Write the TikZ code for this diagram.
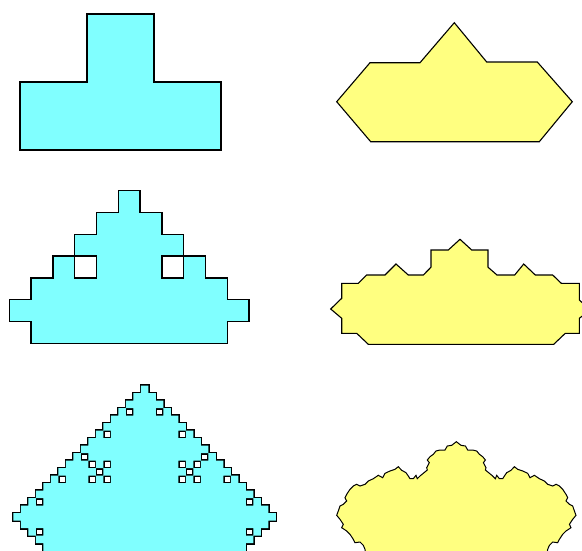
\documentclass[tikz,border=0pt]{standalone}
\definecolor{cyanfill}{RGB}{128,255,255}
\definecolor{yelfill}{RGB}{255,255,128}
\tikzset{
  cyanshape/.style={fill=cyanfill, draw=black, line width=1.4pt, line join=miter},
  yelshape/.style={fill=yelfill, draw=black, line width=1.1pt, line join=miter},
}
\def\cyanruns{0/17/18, 1/16/19, 2/15/20,
 3/14/15, 3/16/19, 3/20/21,
 4/13/22, 5/12/23,
 6/11/12, 6/13/22, 6/23/24,
 7/10/25, 8/9/26,
 9/8/9, 9/10/25, 9/26/27,
 10/7/10, 10/11/12, 10/13/22, 10/23/24, 10/25/28,
 11/6/11, 11/12/23, 11/24/29,
 12/5/6, 12/7/10, 12/11/12, 12/13/22, 12/23/24, 12/25/28, 12/29/30,
 13/4/31, 14/3/32,
 15/2/3, 15/4/31, 15/32/33,
 16/1/34, 17/0/35, 18/1/34,
 19/2/3, 19/4/31, 19/32/33,
 20/3/32, 21/4/31, 22/4/31}
\begin{document}
\begin{tikzpicture}[x=1pt,y=-1pt]
\useasboundingbox (0,0) rectangle (582,550);
% ---- cyan, level 1
\draw[cyanshape] (87,14) -- (154,14) -- (154,82) -- (221,82) -- (221,150)
  -- (20,150) -- (20,82) -- (87,82) -- cycle;
% ---- cyan, level 2
\begin{scope}[shift={(9.3,190.7)}, x=21.8pt, y=-21.8pt]
\draw[cyanshape, even odd rule] (5,0) -- (6,0) -- (6,1) -- (7,1) -- (7,2) -- (8,2)
  -- (8,3) -- (9,3) -- (9,4) -- (10,4) -- (10,5) -- (11,5) -- (11,6) -- (10,6)
  -- (10,7) -- (1,7) -- (1,6) -- (0,6) -- (0,5) -- (1,5) -- (1,4) -- (2,4)
  -- (2,3) -- (3,3) -- (3,2) -- (4,2) -- (4,1) -- (5,1) -- cycle
  (3,3) rectangle (4,4) (7,3) rectangle (8,4);
\end{scope}
% ---- cyan, level 3
\begin{scope}[shift={(13.3,385.7)}, x=7.5pt, y=-7.5pt]
\draw[line width=2.6pt] foreach \r/\a/\b in \cyanruns {(\a,\r) rectangle (\b,\r+1)};
\fill[cyanfill] foreach \r/\a/\b in \cyanruns {(\a,\r) rectangle (\b,\r+1)};
\end{scope}
% ---- yellow, level 1
\draw[yelshape] (336.7,101.7) -- (370,62.7) -- (420,62.7) -- (454.3,22.7)
  -- (486.7,62) -- (537.3,62) -- (572.3,101.7) -- (539.3,141.7) -- (370.7,141.7) -- cycle;
% ---- yellow, level 2
\draw[yelshape] (330.7,309) -- (341.7,298.3) -- (341.7,283.3) -- (358.3,283.3)
  -- (366.7,275) -- (385,275) -- (396,264) -- (408.3,275) -- (423.3,275)
  -- (431,267.2) -- (431,250) -- (448.3,250) -- (460,239.3) -- (471.7,250)
  -- (488,250) -- (488,267.2) -- (497,275) -- (514.7,275) -- (523.7,264)
  -- (535.3,275) -- (552.7,275) -- (561.3,283.3) -- (579.3,283.3) -- (579.3,300)
  -- (590.3,310) -- (579.3,318.3) -- (579.3,333.3) -- (565.3,333.3) -- (553.7,344.3)
  -- (368.3,344.3) -- (356.7,333.3) -- (341.7,333.3) -- (341.7,318.3) -- cycle;
% ---- yellow, level 3 (symmetric about x = 456.35)
\draw[yelshape, line width=1pt]
  (366,556) -- (365,549.3) -- (363.3,545.3) -- (360,542) -- (355,542.7)
  -- (353.3,539.3) -- (350,534.3) -- (346.7,531) -- (341.7,527.7) -- (343.3,524.3)
  -- (340,519.3) -- (336.7,515.3) -- (338.3,511) -- (340,506) -- (343.3,504.3)
  -- (346.7,501) -- (345,497.7) -- (346.7,494.3) -- (350,489.3) -- (353.3,486)
  -- (356.7,484.3) -- (360,486) -- (365,484.3) -- (368.3,481) -- (373.3,478.7)
  -- (378.3,475.3) -- (382.7,477.7) -- (385,473.3) -- (390,471) -- (395,469.3)
  -- (398.3,466.7) -- (401.7,470.3) -- (406,472.7) -- (408.3,476) -- (410,478.7)
  -- (413.3,478.7) -- (416,475.3) -- (417.3,478.7) -- (420,476) -- (423.3,473.3)
  -- (427.3,470) -- (426.7,467.7) -- (429.3,462.7) -- (427.3,460) -- (430,456.7)
  -- (433.3,454.3) -- (436,451) -- (440,450) -- (445,450) -- (447.3,446)
  -- (451.7,445.3) -- (456.35,441.7)
  -- (461,445.3) -- (465.4,446) -- (467.7,450) -- (472.7,450) -- (476.7,451)
  -- (479.4,454.3) -- (482.7,456.7) -- (485.4,460) -- (483.4,462.7) -- (486,467.7)
  -- (485.4,470) -- (489.4,473.3) -- (492.7,476) -- (495.4,478.7) -- (496.7,475.3)
  -- (499.4,478.7) -- (502.7,478.7) -- (504.4,476) -- (506.7,472.7) -- (511,470.3)
  -- (514.4,466.7) -- (517.7,469.3) -- (522.7,471) -- (527.7,473.3) -- (530,477.7)
  -- (534.4,475.3) -- (539.4,478.7) -- (544.4,481) -- (547.7,484.3) -- (552.7,486)
  -- (556,484.3) -- (559.4,486) -- (562.7,489.3) -- (566,494.3) -- (567.7,497.7)
  -- (566,501) -- (569.4,504.3) -- (572.7,506) -- (574.4,511) -- (576,515.3)
  -- (572.7,519.3) -- (569.4,524.3) -- (571,527.7) -- (566,531) -- (562.7,534.3)
  -- (559.4,539.3) -- (557.7,542.7) -- (552.7,542) -- (549.4,545.3) -- (547.7,549.3)
  -- (546.7,556) -- cycle;
\end{tikzpicture}
\end{document}
